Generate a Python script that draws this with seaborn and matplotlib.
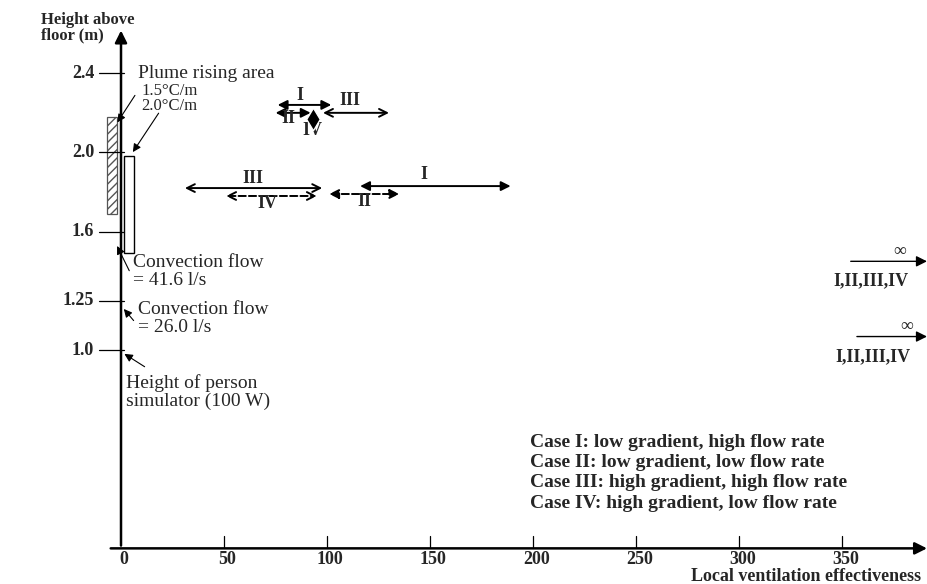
import numpy as np
import pandas as pd
import matplotlib
matplotlib.use("Agg")
import matplotlib.pyplot as plt
from matplotlib.patches import Rectangle
import seaborn as sns

# ---------------- DATA ---------------- #

cases = ["I", "II", "III", "IV"]

# measurement heights (m)
heights = [2.2, 1.8]

# range of local ventilation effectiveness at each height, per case
upper_low = [76, 75, 98, 93]
upper_high = [102, 92, 130, 93]
lower_low = [116, 101, 31, 51]
lower_high = [189, 135, 97.6, 95]

# heights where the effectiveness goes to infinity for all cases
inf_heights = [1.45, 1.07]

y_ticks = [1.0, 1.25, 1.6, 2.0, 2.4]
y_tick_labels = ["1.0", "1.25", "1.6", "2.0", "2.4"]
x_ticks = [0, 50, 100, 150, 200, 250, 300, 350]

# plume zones drawn next to the axis (x0, x1, y0, y1)
plume_15 = [-7, -2, 1.69, 2.18]
plume_20 = [1.5, 6.3, 1.49, 1.98]

legend_lines = [
    "Case I: low gradient, high flow rate",
    "Case II: low gradient, low flow rate",
    "Case III: high gradient, high flow rate",
    "Case IV: high gradient, low flow rate",
]

# ---------------- STYLE ---------------- #

sns.set_theme(style="white")
plt.rcParams["font.family"] = ["Liberation Serif", "DejaVu Serif"]

fig = plt.figure(figsize=(9.27, 5.84), dpi=100)
ax = fig.add_axes([0, 0, 1, 1])
ax.set_xlim(-58.7, 391)
ax.set_ylim(-0.18, 2.77)
ax.axis("off")

# small vertical offsets so that the lines of each case don't overlap
offset = {"I": 0.04, "II": 0.0, "III": 0.0, "IV": -0.03}
offset_low = {"I": 0.03, "II": -0.01, "III": 0.02, "IV": -0.02}
dashed = {"I": False, "II": True, "III": False, "IV": True}

# ---------------- AXES ---------------- #

ax.annotate("", xy=(0, 2.63), xytext=(0, 0),
            arrowprops=dict(arrowstyle="-|>", lw=1.8, color="black",
                            mutation_scale=18))
ax.annotate("", xy=(391, 0.0), xytext=(-5, 0),
            arrowprops=dict(arrowstyle="-|>", lw=1.8, color="black",
                            mutation_scale=18, shrinkA=0, shrinkB=0))

for t, lbl in zip(y_ticks, y_tick_labels):
    ax.plot([-10.5, 1.5], [t, t], color="black", lw=0.9)
    ax.text(-13, t, lbl, ha="right", va="center", fontsize=13,
            fontweight="bold")

for t in x_ticks[1:]:
    ax.plot([t, t], [0, 0.06], color="black", lw=0.9)
for t in x_ticks:
    ax.text(t + 1.5, -0.055, str(t), ha="center", va="center",
            fontsize=13, fontweight="bold")

ax.text(-39, 2.71, "Height above\nfloor (m)", ha="left", va="top",
        fontsize=12, fontweight="bold", linespacing=1.0)
ax.text(388, -0.14, "Local ventilation effectiveness", ha="right",
        va="center", fontsize=13, fontweight="bold")

# ---------------- PLUME ZONES ---------------- #

x0, x1, y0, y1 = plume_15
ax.add_patch(Rectangle((x0, y0), x1 - x0, y1 - y0, fill=False,
                       hatch="////", edgecolor="#555555", lw=0.9))
x0, x1, y0, y1 = plume_20
ax.add_patch(Rectangle((x0, y0), x1 - x0, y1 - y0, fill=False,
                       edgecolor="black", lw=1.0))

ax.text(8.3, 2.40, "Plume rising area", ha="left", va="center", fontsize=14)
ax.text(10, 2.352, "1.5°C/m\n2.0°C/m", ha="left", va="top", fontsize=12,
        linespacing=0.95)
ax.annotate("", xy=(-2.5, 2.14), xytext=(7.5, 2.30),
            arrowprops=dict(arrowstyle="-|>", lw=0.8, color="black"))
ax.annotate("", xy=(5, 1.99), xytext=(19, 2.21),
            arrowprops=dict(arrowstyle="-|>", lw=0.8, color="black"))

notes = [
    ("Convection flow\n= 41.6 l/s", (5.8, 1.40), (-2.5, 1.54), (4.6, 1.39)),
    ("Convection flow\n= 26.0 l/s", (8.3, 1.16), (0.5, 1.22), (7.0, 1.14)),
    ("Height of person\nsimulator (100 W)", (2.4, 0.79), (0.5, 0.99), (12.6, 0.91)),
]
for txt, pos, head, tail in notes:
    ax.text(pos[0], pos[1], txt, ha="left", va="center", fontsize=14,
            linespacing=1.05)
    ax.annotate("", xy=head, xytext=tail,
                arrowprops=dict(arrowstyle="-|>", lw=0.8, color="black"))

# ---------------- RANGES ---------------- #

ranges = pd.DataFrame({
    "case": cases * 2,
    "low": upper_low + lower_low,
    "high": upper_high + lower_high,
    "height": [heights[0]] * 4 + [heights[1]] * 4,
})

for _, r in ranges.iterrows():
    c = r["case"]
    if r["height"] == heights[0]:
        y = r["height"] + offset[c]
    else:
        y = r["height"] + offset_low[c]
    if r["low"] == r["high"]:
        continue
    ax.annotate("", xy=(r["high"], y), xytext=(r["low"], y),
                arrowprops=dict(arrowstyle="<|-|>" if c in ("I", "II") else "<->",
                                lw=1.4, color="black",
                                linestyle="--" if (dashed[c] and r["height"] == heights[1]) else "-",
                                mutation_scale=14, shrinkA=0, shrinkB=0))

# case IV at the upper height collapses to a single value
pt = ranges[(ranges["case"] == "IV") & (ranges["height"] == heights[0])]
sns.scatterplot(x=pt["low"], y=pt["height"] + offset["IV"], marker="d",
                s=130, color="black", ax=ax, legend=False, zorder=5)

# case labels
lab = dict(fontsize=13, fontweight="bold", ha="center", va="center")
ax.text(87, 2.29, "I", **lab)
ax.text(111, 2.26, "III", **lab)
ax.text(81, 2.17, "II", **lab)
ax.text(93, 2.11, "IV", **lab)
ax.text(64, 1.87, "III", **lab)
ax.text(71, 1.74, "IV", **lab)
ax.text(118, 1.75, "II", **lab)
ax.text(147, 1.89, "I", **lab)

# ---------------- INFINITY ---------------- #

for i, h in enumerate(inf_heights):
    ax.annotate("", xy=(391, h), xytext=(354 + 3 * i, h),
                arrowprops=dict(arrowstyle="-|>", lw=1.0, color="black",
                                mutation_scale=16, shrinkA=0, shrinkB=0))
    ax.text(378 + 3 * i, h + 0.05, "∞", ha="center", va="center", fontsize=13)
    ax.text(364 + i, h - 0.10, "I,II,III,IV", ha="center", va="center",
            fontsize=13, fontweight="bold")

# ---------------- LEGEND ---------------- #

for i, line in enumerate(legend_lines):
    ax.text(198.5, 0.535 - i * 0.102, line, ha="left", va="center",
            fontsize=14, fontweight="bold")

fig.savefig("out.png", dpi=100)
